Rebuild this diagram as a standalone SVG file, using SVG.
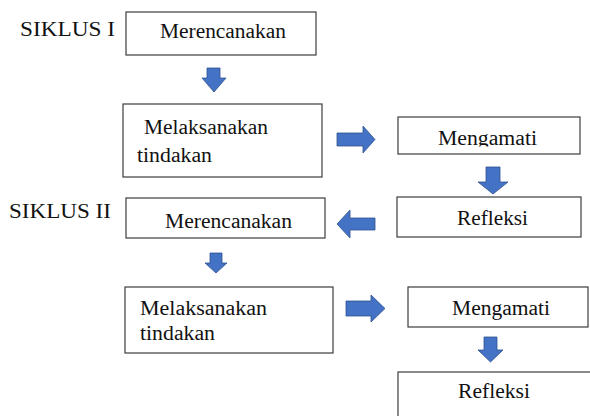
<svg xmlns="http://www.w3.org/2000/svg" width="590" height="416" viewBox="0 0 590 416">
<style>
.box{fill:#fff;stroke:#3c3c3c;stroke-width:1.2}
.t{font-family:'Liberation Serif','Times New Roman','DejaVu Serif',serif;font-size:20px;fill:#111}
.arr{fill:#4472C4;stroke:#2F528F;stroke-width:0.8}
</style>
<defs>
<clipPath id="clipM1"><rect x="398" y="117" width="182" height="29.5"/></clipPath>
</defs>
<rect width="590" height="416" fill="#fff"/>
<text class="t" x="20" y="36" textLength="95" lengthAdjust="spacingAndGlyphs">SIKLUS I</text>
<text class="t" x="9" y="218" textLength="102" lengthAdjust="spacingAndGlyphs">SIKLUS II</text>
<g id="n1"><rect class="box" x="126" y="12" width="190" height="43"/><text class="t" x="160" y="38" textLength="126" lengthAdjust="spacingAndGlyphs">Merencanakan</text></g>
<g id="n2"><rect class="box" x="123" y="104" width="199" height="73"/><text class="t" x="144" y="134" textLength="124" lengthAdjust="spacingAndGlyphs">Melaksanakan</text><text class="t" x="137" y="162" textLength="75" lengthAdjust="spacingAndGlyphs">tindakan</text></g>
<g id="n3"><rect class="box" x="398" y="117" width="182" height="37"/><text class="t" x="438" y="145" textLength="99" lengthAdjust="spacingAndGlyphs" clip-path="url(#clipM1)">Mengamati</text></g>
<g id="n4"><rect class="box" x="397" y="197" width="184" height="40"/><text class="t" x="457" y="225" textLength="71" lengthAdjust="spacingAndGlyphs">Refleksi</text></g>
<g id="n5"><rect class="box" x="126" y="198" width="199" height="40"/><text class="t" x="165" y="228" textLength="127" lengthAdjust="spacingAndGlyphs">Merencanakan</text></g>
<g id="n6"><rect class="box" x="125" y="287" width="208" height="66"/><text class="t" x="140" y="315" textLength="127" lengthAdjust="spacingAndGlyphs">Melaksanakan</text><text class="t" x="140" y="340" textLength="75" lengthAdjust="spacingAndGlyphs">tindakan</text></g>
<g id="n7"><rect class="box" x="408" y="287" width="180" height="40"/><text class="t" x="452" y="315" textLength="98" lengthAdjust="spacingAndGlyphs">Mengamati</text></g>
<g id="n8"><rect class="box" x="398" y="372" width="210" height="60"/><text class="t" x="458" y="398" textLength="72" lengthAdjust="spacingAndGlyphs">Refleksi</text></g>
<g id="connectors">
<path class="arr" d="M207,68 H220 V78 H226 L214,92 L202,78 H207 Z"/>
<path class="arr" d="M337,133 H363 V126 L375,139.5 L363,153 V146 H337 Z"/>
<path class="arr" d="M486,167 H500 V182 H508 L493,194 L478,182 H486 Z"/>
<path class="arr" d="M375,218 H350 V210 L337,224 L350,238 V230 H375 Z"/>
<path class="arr" d="M210,253 H222 V263 H227 L216,273 L205,263 H210 Z"/>
<path class="arr" d="M346,301 H371 V295 L385,308.5 L371,322 V316 H346 Z"/>
<path class="arr" d="M484,337 H497 V350 H503 L490.5,362 L478,350 H484 Z"/>
</g>
</svg>
